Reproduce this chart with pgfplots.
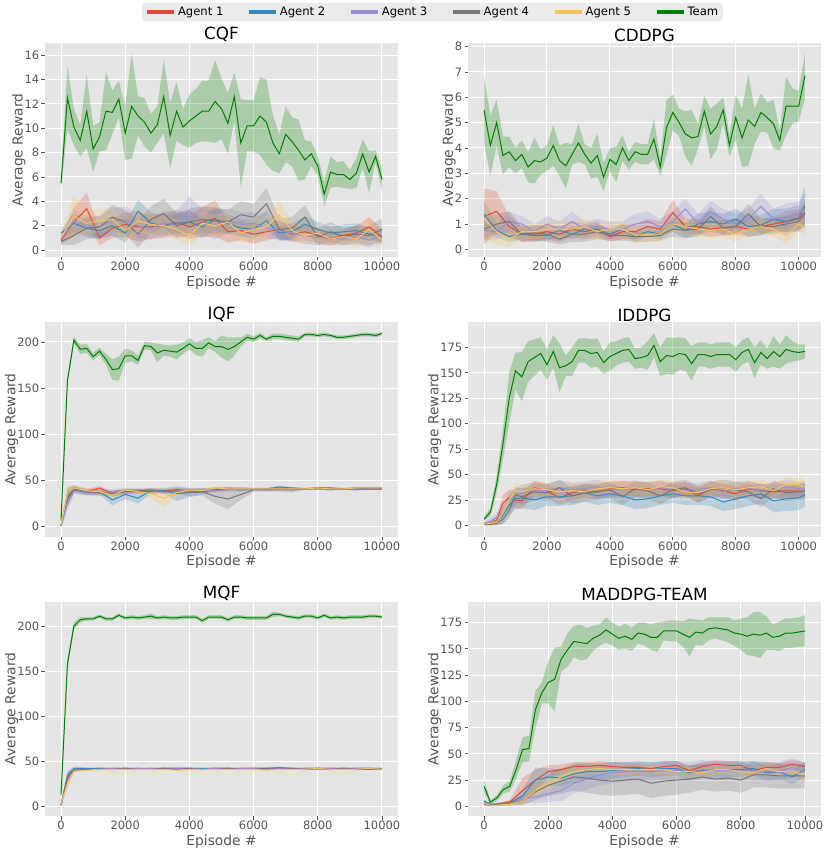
\documentclass[border=0pt]{standalone}
\usepackage{fontspec}
\setmainfont{DejaVu Sans}
\usepackage{pgfplots}
\pgfplotsset{compat=1.18}
\usepackage{pgfplotstable}
\usepgfplotslibrary{groupplots,fillbetween}
\definecolor{cA}{HTML}{E24A33}
\definecolor{cB}{HTML}{348ABD}
\definecolor{cC}{HTML}{988ED5}
\definecolor{cD}{HTML}{777777}
\definecolor{cE}{HTML}{FBC15E}
\definecolor{cT}{HTML}{008000}
\definecolor{bg}{HTML}{E5E5E5}
\definecolor{legbg}{HTML}{EAEAEA}
\definecolor{tk}{HTML}{555555}

% ---------- CQF ----------
\pgfplotstableread{
x m s
0 5.5 0.4
200 12.5 2.6
400 10.1 1.5
600 9.0 1.3
800 11.4 3.0
1000 8.3 1.9
1200 9.3 1.2
1400 11.4 3.2
1600 11.3 1.8
1800 12.4 1.5
2000 9.6 2.2
2200 11.8 4.3
2400 11.0 1.6
2600 10.5 2.0
2800 9.6 1.6
3000 10.3 1.5
3200 12.6 3.0
3400 9.4 2.7
3600 11.4 2.4
3800 10.1 1.5
4000 10.6 2.2
4200 11.0 2.2
4400 11.4 2.5
4600 11.4 2.5
4800 12.2 3.4
5000 11.6 2.5
5200 10.4 2.5
5400 12.6 2.0
5600 8.8 3.6
5800 10.2 2.1
6000 10.2 2.1
6200 11.0 3.2
6400 10.5 3.5
6600 8.8 2.3
6800 7.9 1.6
7000 9.5 2.3
7200 8.9 2.0
7400 8.2 2.5
7600 7.4 1.6
7800 7.9 1.0
8000 6.9 0.8
8200 4.6 1.0
8400 6.4 1.3
8600 6.2 1.0
8800 6.2 1.1
9000 5.8 0.8
9200 6.3 1.2
9400 7.9 1.2
9600 6.4 1.7
9800 7.7 0.5
10000 5.8 0.9
}\tCQFt
\pgfplotstableread{
x a1 s1 a2 s2 a3 s3 a4 s4 a5 s5
0 0.8 0.3 1.4 0.3 0.9 0.3 0.7 0.3 1.0 0.3
400 2.3 1.2 2.2 0.8 2.4 0.9 1.2 0.8 2.8 1.6
800 3.4 1.3 1.8 0.7 2.0 0.8 1.8 0.9 2.2 1.0
1200 1.0 0.6 1.6 0.7 1.9 0.9 1.9 0.9 2.4 0.9
1600 1.8 0.8 2.0 0.8 2.4 1.0 2.7 1.0 2.5 0.9
2000 2.1 1.0 1.4 0.8 2.5 1.1 2.3 1.0 1.6 0.9
2400 1.9 1.2 3.2 0.9 2.0 1.0 1.3 1.1 2.4 1.0
2800 1.9 1.0 2.2 0.9 1.8 0.9 2.5 1.1 2.1 0.9
3200 2.0 1.0 2.0 0.8 2.2 1.0 3.0 1.2 2.0 0.9
3600 2.3 1.0 2.2 0.8 2.1 1.1 2.0 1.0 1.7 0.8
4000 1.9 1.0 2.3 0.9 3.2 1.2 2.3 1.1 1.2 0.8
4400 2.3 1.2 1.9 0.9 2.3 1.1 2.5 1.1 2.2 0.9
4800 2.6 1.5 2.5 0.9 2.1 1.2 2.4 1.1 2.0 0.9
5200 1.5 0.9 2.2 0.8 2.4 1.0 2.3 1.0 2.3 0.9
5600 1.6 0.8 1.8 0.7 2.1 1.0 2.9 1.1 1.4 0.8
6000 1.3 0.8 1.7 0.8 2.2 0.9 2.7 1.1 1.7 0.9
6400 1.5 0.7 2.4 0.8 1.8 0.8 3.8 1.3 1.9 0.9
6800 1.7 0.7 1.4 0.6 1.6 0.8 1.7 0.9 2.9 1.1
7200 1.3 0.6 1.5 0.7 1.4 0.7 1.8 0.9 1.6 0.8
7600 1.5 0.7 2.1 0.7 1.2 0.7 2.7 1.0 1.2 0.7
8000 1.2 0.6 1.7 0.6 1.0 0.6 1.1 0.7 1.4 0.7
8400 0.9 0.5 1.4 0.5 1.0 0.6 1.5 0.8 0.9 0.5
8800 1.2 0.5 1.5 0.6 0.9 0.5 1.1 0.7 1.1 0.6
9200 1.4 0.6 1.6 0.6 1.1 0.6 1.3 0.7 0.9 0.6
9600 1.9 0.8 1.3 0.5 0.8 0.6 1.2 0.8 1.7 1.0
10000 1.1 0.6 1.1 0.5 1.2 0.6 1.7 0.9 0.8 0.5
}\tCQFa

% ---------- CDDPG ----------
\pgfplotstableread{
x m s
0 5.5 1.3
200 4.1 1.2
400 5.0 0.9
600 3.7 0.75
800 3.85 0.6
1000 3.5 0.5
1200 3.75 0.55
1400 3.25 0.6
1600 3.5 0.9
1800 3.45 0.5
2000 3.6 0.5
2200 4.1 0.8
2400 3.5 0.6
2600 3.3 0.9
2800 3.75 0.4
3000 4.2 0.75
3200 3.75 0.4
3400 3.4 0.6
3600 3.7 0.85
3800 2.85 0.55
4000 3.55 0.45
4200 3.35 0.7
4400 4.0 0.5
4600 3.5 0.35
4800 3.85 0.4
5000 3.75 0.4
5200 3.75 0.4
5400 4.35 0.8
5600 3.25 0.35
5800 4.8 1.1
6000 5.4 0.7
6200 5.0 0.55
6400 4.55 0.9
6600 4.4 1.1
6800 4.45 0.5
7000 5.45 0.6
7200 4.55 1.0
7400 4.85 0.9
7600 5.5 0.5
7800 4.1 0.45
8000 5.2 0.9
8200 4.4 1.15
8400 5.1 1.8
8600 4.85 0.7
8800 5.4 0.75
9000 5.2 0.6
9200 4.95 0.95
9400 4.3 0.4
9600 5.65 1.15
9800 5.65 0.7
10000 5.65 0.6
10200 6.85 0.9
}\tCDDt
\pgfplotstableread{
x a1 s1 a2 s2 a3 s3 a4 s4 a5 s5
0 1.3 1.1 1.4 0.5 0.75 0.4 0.8 0.4 1.2 0.8
400 1.5 0.8 0.75 0.3 0.7 0.3 1.0 0.4 0.7 0.5
800 0.9 0.4 0.5 0.2 1.1 0.4 1.1 0.4 0.4 0.3
1200 0.6 0.3 0.6 0.2 1.0 0.3 0.6 0.3 0.7 0.3
1600 0.6 0.3 0.55 0.2 0.7 0.3 0.65 0.3 0.7 0.3
2000 0.7 0.3 0.55 0.2 1.0 0.3 0.6 0.3 0.8 0.3
2400 0.6 0.3 0.75 0.2 0.8 0.3 0.4 0.2 0.8 0.3
2800 0.8 0.3 0.6 0.2 1.1 0.4 0.6 0.3 0.8 0.3
3200 0.7 0.3 0.8 0.2 0.8 0.3 0.6 0.3 0.9 0.3
3600 0.8 0.3 0.8 0.2 0.9 0.3 0.7 0.3 0.7 0.3
4000 0.5 0.2 0.6 0.2 0.8 0.3 0.55 0.2 0.8 0.3
4400 0.7 0.3 0.8 0.2 0.8 0.3 0.55 0.2 0.8 0.3
4800 0.7 0.3 0.5 0.2 1.0 0.4 0.5 0.2 0.55 0.3
5200 0.9 0.3 0.7 0.2 1.1 0.4 0.5 0.2 0.6 0.3
5600 0.8 0.3 0.6 0.2 0.9 0.3 0.55 0.2 0.6 0.3
6000 1.45 0.5 1.0 0.3 1.1 0.4 0.8 0.3 1.0 0.3
6400 0.9 0.3 0.75 0.3 1.6 0.4 0.75 0.3 0.9 0.3
6800 0.9 0.3 1.0 0.4 1.0 0.4 0.8 0.3 0.8 0.3
7200 0.8 0.3 1.1 0.4 1.5 0.4 1.3 0.4 0.75 0.3
7600 0.85 0.3 1.0 0.4 1.2 0.4 0.85 0.3 0.8 0.3
8000 0.9 0.3 1.2 0.4 1.0 0.4 0.9 0.3 0.6 0.3
8400 0.8 0.3 0.9 0.4 1.2 0.4 1.4 0.4 0.8 0.3
8800 0.9 0.3 0.95 0.4 1.7 0.5 0.9 0.3 0.9 0.3
9200 1.0 0.3 1.2 0.4 1.2 0.4 0.9 0.3 0.8 0.3
9600 1.1 0.4 1.1 0.5 1.3 0.5 1.0 0.3 0.55 0.3
10000 1.2 0.4 1.25 0.5 1.4 0.5 1.1 0.4 1.0 0.3
10200 1.45 0.5 1.7 0.8 1.6 0.6 1.4 0.4 0.85 0.3
}\tCDDa

% ---------- IQF ----------
\pgfplotstableread{
x m s
0 8 3
200 158 3
400 202 4
600 192 5
800 193 5
1000 184 4
1200 190 4
1400 181 6
1600 170 11
1800 171 13
2000 185 8
2200 185 6
2400 180 5
2600 196 4
2800 195 4
3000 188 10
3200 191 6
3400 190 6
3600 189 8
3800 193 6
4000 198 6
4200 193 7
4400 193 9
4600 199 6
4800 195 6
5000 195 12
5200 192 13
5400 195 10
5600 200 5
5800 205 4
6000 203 3
6200 207 3
6400 203 2
6600 206 3
6800 206 3
7000 205 3
7200 204 3
7400 203 3
7600 208 2
7800 208 2
8000 207 2
8200 208 2
8400 207 2
8600 205 2
8800 205 2
9000 206 2
9200 207 2
9400 208 2
9600 208 2
9800 207 2
10000 209 2
}\tIQFt
\pgfplotstableread{
x a1 s1 a2 s2 a3 s3 a4 s4 a5 s5
0 1 1 1 1 1 1 1 1 2 1
200 30 8 32 8 25 8 35 8 36 8
400 40 3 41 3 38 3 42 3 42 3
800 38 3 37 3 37 3 38 3 39 3
1200 42 2 38 3 36 3 37 3 38 3
1600 36 3 29 6 38 3 36 3 34 5
2000 38 2 35 5 40 2 38 3 40 2
2400 38 2 31 6 40 2 39 2 38 3
2800 38 2 39 3 39 2 40 2 36 6
3200 39 2 39 3 38 2 38 2 31 10
3600 40 2 36 8 38 2 39 3 37 5
4000 39 2 37 5 40 2 37 4 40 2
4400 38 2 38 3 40 2 38 4 39 2
4800 40 2 41 2 39 2 33 8 42 2
5200 41 2 41 2 40 2 30 11 41 2
5600 41 2 40 2 41 2 35 6 41 2
6000 41 1 41 1 41 1 40 2 41 1
6400 41 1 41 1 40 1 40 2 41 1
6800 41 1 43 1 40 1 41 3 41 1
7200 41 1 42 1 40 1 40 3 41 1
7600 41 1 41 1 41 1 41 1 41 1
8000 42 1 41 1 41 1 42 1 42 1
8400 42 1 41 1 40 1 41 1 41 1
8800 41 1 41 1 41 1 41 1 41 1
9200 41 1 42 1 40 1 41 1 42 1
9600 41 1 42 1 41 1 41 1 42 1
10000 41 1 42 1 41 1 41 1 42 1
}\tIQFa

% ---------- IDDPG ----------
\pgfplotstableread{
x m s
0 6 2
200 13 4
400 40 8
600 80 15
800 125 25
1000 152 18
1200 146 24
1400 161 20
1600 165 18
1800 169 16
2000 158 15
2200 171 16
2400 155 24
2600 157 10
2800 161 14
3000 172 12
3200 172 12
3400 169 14
3600 170 14
3800 160 11
4000 166 14
4200 169 12
4400 172 12
4600 173 12
4800 164 10
5000 165 10
5200 167 14
5400 177 12
5600 161 14
5800 167 18
6000 166 18
6200 169 16
6400 168 16
6600 159 17
6800 168 12
7000 168 12
7200 166 12
7400 168 12
7600 168 12
7800 168 12
8000 163 12
8200 170 12
8400 173 12
8600 160 15
8800 170 12
9000 164 10
9200 171 15
9400 166 12
9600 173 14
9800 171 10
10000 170 8
10200 171 7
}\tIDDt
\pgfplotstableread{
x a1 s1 a2 s2 a3 s3 a4 s4 a5 s5
0 1 1 1 1 2 1 1 1 1 1
200 2 2 2 2 4 3 1 1 2 2
400 5 4 3 3 8 4 2 2 3 3
600 22 8 10 8 12 7 6 5 12 7
800 27 8 20 10 25 8 15 8 25 8
1000 25 8 26 10 28 8 30 8 34 8
1200 24 8 27 10 32 8 28 8 33 7
1600 37 7 25 10 35 7 33 8 36 7
2000 34 7 28 9 34 7 32 8 35 7
2400 27 7 28 9 37 7 37 8 33 7
2800 32 7 29 9 35 7 29 8 34 7
3200 34 7 32 9 36 7 32 8 33 7
3600 33 7 29 9 38 7 33 8 36 7
4000 36 7 31 9 34 7 35 8 37 7
4400 37 7 29 9 36 7 28 8 36 7
4800 35 7 25 9 37 7 36 8 37 7
5200 36 7 26 9 35 7 34 8 35 7
5600 36 7 29 9 37 7 29 8 38 7
6000 34 7 31 9 35 7 35 8 37 7
6400 36 7 29 9 34 7 37 8 33 7
6800 29 7 29 9 35 7 31 8 32 7
7200 36 7 28 9 37 7 35 8 36 7
7600 34 7 23 9 33 7 37 8 37 7
8000 31 7 26 10 36 7 35 8 35 7
8400 36 7 29 10 37 7 33 8 37 7
8800 34 7 31 10 33 7 26 8 38 7
9200 33 7 24 11 35 7 36 8 34 7
9600 34 7 26 12 38 7 32 8 40 7
10000 34 7 27 12 36 7 33 8 40 7
10200 34 7 30 12 36 7 33 8 38 7
}\tIDDa

% ---------- MQF ----------
\pgfplotstableread{
x m s
0 13 2
200 158 5
400 200 4
600 207 3
800 208 2
1000 208 2
1200 211 2
1400 208 2
1600 208 2
1800 212 2
2000 209 2
2200 210 2
2400 209 2
2600 210 2
2800 211 3
3000 209 2
3200 210 2
3400 209 2
3600 209 2
3800 210 2
4000 210 2
4200 210 2
4400 206 2
4600 210 2
4800 210 2
5000 210 2
5200 207 2
5400 210 2
5600 210 2
5800 209 2
6000 209 2
6200 209 2
6400 209 2
6600 213 3
6800 213 2
7000 211 2
7200 210 2
7400 209 2
7600 211 2
7800 211 2
8000 209 2
8200 212 2
8400 209 2
8600 210 2
8800 209 2
9000 210 2
9200 210 2
9400 210 2
9600 211 2
9800 211 2
10000 210 2
}\tMQFt
\pgfplotstableread{
x a1 s1 a2 s2 a3 s3 a4 s4 a5 s5
0 2 1 1 1 1 1 2 1 3 1
200 30 6 34 5 28 6 32 6 25 6
400 40 2 42 2 41 2 40 2 39 2
800 41 1 42 1 41 1 41 1 40 1
1200 42 1 42 1 41 1 41 1 41 1
1600 42 1 41 1 42 1 41 1 41 1
2000 42 1 42 1 41 1 42 1 41 1
2400 41 1 42 1 42 1 41 1 41 1
2800 42 1 41 1 42 1 41 1 41 1
3200 42 1 42 1 41 1 42 1 41 1
3600 42 1 42 1 42 1 41 1 40 1
4000 41 1 42 1 42 1 42 1 41 1
4400 41 1 42 1 41 1 41 1 41 1
4800 42 1 42 1 42 1 41 1 41 1
5200 42 1 42 1 41 1 42 1 41 1
5600 42 1 41 1 42 1 41 1 41 1
6000 42 1 42 1 42 1 41 1 41 1
6400 42 1 42 1 41 1 42 1 40 1
6800 42 1 43 1 42 1 41 1 41 1
7200 41 1 42 1 42 1 42 1 41 1
7600 42 1 41 1 42 1 41 1 41 1
8000 42 1 42 1 41 1 42 1 42 1
8400 42 1 41 1 42 1 41 1 41 1
8800 42 1 42 1 41 1 42 1 41 1
9200 41 1 42 1 42 1 41 1 41 1
9600 42 1 42 1 42 1 41 1 42 1
10000 41 1 42 1 41 1 41 1 41 1
}\tMQFa

% ---------- MADDPG-TEAM ----------
\pgfplotstableread{
x m s
0 19 6
200 4 2
400 8 3
600 16 4
800 19 5
1000 35 9
1200 54 12
1400 55 12
1600 92 18
1800 108 10
2000 118 20
2200 121 30
2400 140 12
2600 149 16
2800 157 15
3000 156 17
3200 155 15
3400 160 12
3600 163 10
3800 168 12
4000 164 11
4200 160 11
4400 162 12
4600 159 11
4800 165 10
5000 164 11
5200 161 12
5400 161 14
5600 167 9
5800 167 10
6000 167 10
6200 164 12
6400 161 18
6600 166 12
6800 165 12
7000 169 11
7200 170 10
7400 169 11
7600 168 12
7800 165 12
8000 164 15
8200 162 18
8400 164 21
8600 163 22
8800 165 16
9000 161 12
9200 162 14
9400 165 14
9600 165 14
9800 166 14
10000 167 15
}\tMADt
\pgfplotstableread{
x a1 s1 a2 s2 a3 s3 a4 s4 a5 s5
0 3 2 5 2 4 2 2 1 3 1
200 1 1 2 1 1 1 1 1 1 1
400 2 1 2 1 1 1 2 1 1 1
800 4 2 3 2 3 2 3 2 2 1
1200 15 12 10 6 7 4 5 4 5 3
1600 25 10 25 12 9 6 14 8 15 6
2000 33 6 28 8 12 8 20 10 22 6
2400 35 5 27 8 15 10 24 12 28 6
2800 38 4 31 8 22 10 28 13 33 5
3200 38 4 33 8 26 10 27 14 35 5
3600 39 4 33 8 30 10 25 14 36 5
4000 38 4 34 8 32 10 24 14 35 5
4400 37 4 35 7 33 9 25 14 35 5
4800 37 4 36 7 33 9 26 14 35 5
5200 36 4 35 7 33 9 22 14 35 5
5600 38 4 36 7 34 9 24 14 35 5
6000 39 4 36 7 34 9 25 14 33 5
6400 34 4 32 7 33 9 26 13 33 5
6800 38 4 34 7 35 9 28 12 32 5
7200 40 4 35 7 34 9 26 12 35 5
7600 39 4 35 7 34 9 27 12 35 5
8000 39 4 35 7 34 9 25 12 33 5
8400 34 4 36 7 34 9 30 12 32 5
8800 37 4 32 7 33 9 30 12 36 5
9200 37 4 33 7 33 9 29 12 33 5
9600 40 4 28 7 37 9 29 12 33 5
10000 38 4 35 7 33 9 29 12 30 5
}\tMADa

\newcommand{\band}[4]{%
 \addplot[name path=bu, draw=none, forget plot] table[x=x, y expr=\thisrow{#2}+\thisrow{#3}] {#1};
 \addplot[name path=bl, draw=none, forget plot] table[x=x, y expr=\thisrow{#2}-\thisrow{#3}] {#1};
 \addplot[fill=#4, fill opacity=0.25, draw=none, forget plot] fill between[of=bu and bl];
 \addplot[#4, line width=1pt, forget plot] table[x=x, y=#2] {#1};
}
\newcommand{\agents}[1]{%
 \band{#1}{a1}{s1}{cA}\band{#1}{a2}{s2}{cB}\band{#1}{a3}{s3}{cC}%
 \band{#1}{a4}{s4}{cD}\band{#1}{a5}{s5}{cE}}

\begin{document}
\begin{tikzpicture}
\begin{groupplot}[
 group style={group size=2 by 3, horizontal sep=70pt, vertical sep=65.5pt, group name=G},
 scale only axis, width=353pt, height=214pt,
 axis background/.style={fill=bg},
 axis line style={draw=none},
 grid=major, major grid style={white, line width=1pt},
 tick style={tk, line width=0.8pt}, tick align=outside, major tick length=3.5pt,
 xtick pos=left, ytick pos=left,
 ticklabel style={font=\fontsize{11.5}{13}\selectfont, text=tk},
 xticklabel style={inner sep=1.5pt},
 yticklabel style={inner sep=2pt},
 /pgf/number format/assume math mode=true, /pgf/number format/1000 sep={},
 scaled ticks=false,
 label style={font=\fontsize{13.8}{15}\selectfont, text=tk},
 xlabel style={inner sep=0pt, yshift=-3pt},
 ylabel style={inner sep=0pt, yshift=-3pt},
 every axis title shift=0pt,
 title style={font=\fontsize{16.8}{18}\selectfont, text=black, inner sep=1pt, anchor=south},
 xlabel={Episode \#}, ylabel={Average Reward},
 xtick={0,2000,4000,6000,8000,10000},
 legend image code/.code={\draw[#1, line width=4pt] (0pt,0pt) -- (27pt,0pt);},
]
\nextgroupplot[title={CQF}, xmin=-500, xmax=10500, ymin=-0.57, ymax=17.0, ytick={0,2,...,16},
 legend style={at={(1.098,1.145)}, anchor=center, legend columns=6, fill=legbg, draw=none,
 rounded corners=3pt, font=\fontsize{11.6}{13}\selectfont, text=black,
 /tikz/every even column/.append style={column sep=21.5pt}}]
\addlegendimage{cA}\addlegendentry{Agent 1}
\addlegendimage{cB}\addlegendentry{Agent 2}
\addlegendimage{cC}\addlegendentry{Agent 3}
\addlegendimage{cD}\addlegendentry{Agent 4}
\addlegendimage{cE}\addlegendentry{Agent 5}
\addlegendimage{cT}\addlegendentry{Team}
\agents{\tCQFa}
\band{\tCQFt}{m}{s}{cT}

\nextgroupplot[title={CDDPG}, xmin=-510, xmax=10710, ymin=-0.3, ymax=8.14, ytick={0,1,...,8}]
\agents{\tCDDa}
\band{\tCDDt}{m}{s}{cT}

\nextgroupplot[title={IQF}, xmin=-500, xmax=10500, ymin=-10.5, ymax=221, ytick={0,50,...,200}]
\agents{\tIQFa}
\band{\tIQFt}{m}{s}{cT}

\nextgroupplot[title={IDDPG}, xmin=-510, xmax=10710, ymin=-11, ymax=199.5, ytick={0,25,...,175}]
\agents{\tIDDa}
\band{\tIDDt}{m}{s}{cT}

\nextgroupplot[title={MQF}, xmin=-500, xmax=10500, ymin=-10.8, ymax=226.7, ytick={0,50,...,200}]
\agents{\tMQFa}
\band{\tMQFt}{m}{s}{cT}

\nextgroupplot[title={MADDPG-TEAM}, xmin=-500, xmax=10500, ymin=-9.2, ymax=194.6, ytick={0,25,...,175}]
\agents{\tMADa}
\band{\tMADt}{m}{s}{cT}
\end{groupplot}
\pgfresetboundingbox
\path (G c1r1.north west) ++(-45pt,43pt) rectangle ++(830pt,-848pt);
\end{tikzpicture}
\end{document}
